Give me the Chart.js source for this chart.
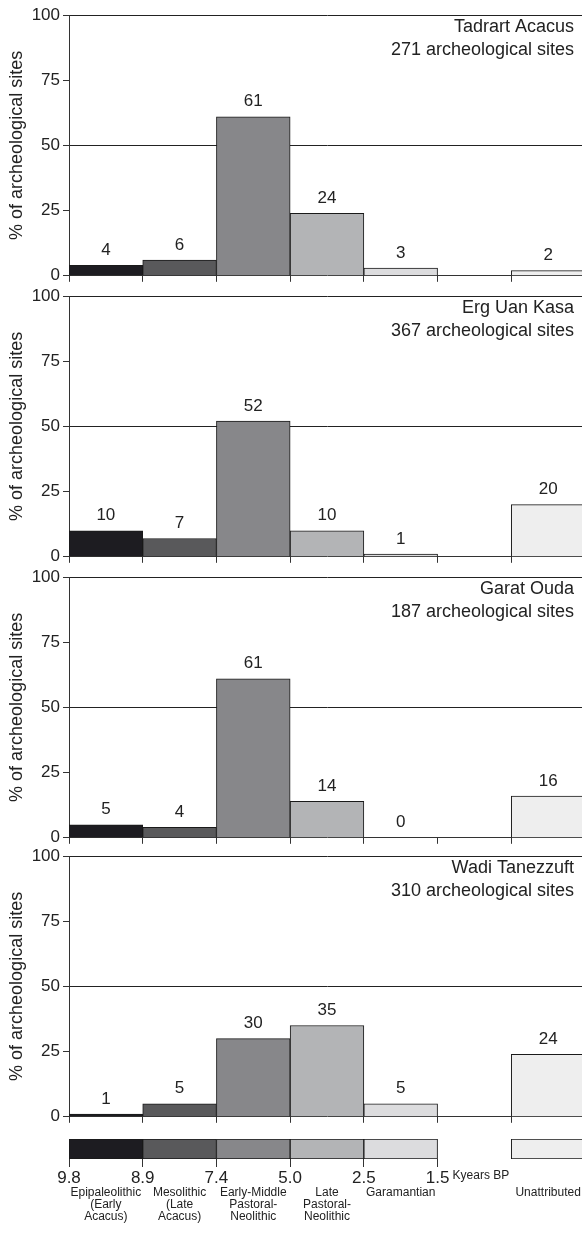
<!DOCTYPE html>
<html>
<head>
<meta charset="UTF-8">
<title>Archeological sites by period</title>
<style>
    html, body { margin: 0; padding: 0; background: #fff; overflow: hidden; }
    .wrap { position: relative; width: 582px; height: 1236px; overflow: hidden; }
    .panel { position: absolute; left: 0; }
    canvas { display: block; }
</style>
</head>
<body>
<div class="wrap">
    <div class="panel" style="top:0px"><canvas id="acacus" width="585" height="289"></canvas></div>
    <div class="panel" style="top:281px"><canvas id="erg" width="585" height="289"></canvas></div>
    <div class="panel" style="top:562px"><canvas id="garat" width="585" height="289"></canvas></div>
    <div class="panel" style="top:841px"><canvas id="wadi" width="585" height="289"></canvas></div>
    <div class="panel" style="top:1130px"><canvas id="strip" width="585" height="106"></canvas></div>
</div>
<script src="https://cdn.jsdelivr.net/npm/chart.js"></script>
<script>
    // periods, oldest first; slot 6 is an empty spacer before "Unattributed"
    const periods = ['Epipaleolithic', 'Mesolithic', 'Early-Middle Pastoral-Neolithic', 'Late Pastoral-Neolithic', 'Garamantian', '', 'Unattributed'];
    const periodLines = [['Epipaleolithic', '(Early', 'Acacus)'], ['Mesolithic', '(Late', 'Acacus)'], ['Early-Middle', 'Pastoral-', 'Neolithic'], ['Late', 'Pastoral-', 'Neolithic'], ['Garamantian'], [], ['Unattributed']];
    const periodColors = ['#1d1c21', '#59595b', '#87878a', '#b3b4b6', '#dcdcde', '#ffffff', '#eeeeee'];
    const boundariesBP = ['9.8', '8.9', '7.4', '5.0', '2.5', '1.5'];

    const siteNames = ['Tadrart Acacus', 'Erg Uan Kasa', 'Garat Ouda', 'Wadi Tanezzuft'];
    const siteCounts = [271, 367, 187, 310];

    const acacusPct = [4, 6, 61, 24, 3, null, 2];
    const ergPct = [10, 7, 52, 10, 1, null, 20];
    const garatPct = [5, 4, 61, 14, 0, null, 16];
    const wadiPct = [1, 5, 30, 35, 5, null, 24];

    const stripFill = [1, 1, 1, 1, 1, null, 1];

    const FONT = '"Liberation Sans", Arial, sans-serif';
    const TEXT = '#222';

    const valueLabels = {
        id: 'valueLabels',
        afterDatasetsDraw(chart) {
            const ctx = chart.ctx;
            const data = chart.data.datasets[0].data;
            ctx.save();
            ctx.font = '17px ' + FONT;
            ctx.fillStyle = TEXT;
            ctx.textAlign = 'center';
            ctx.textBaseline = 'middle';
            chart.getDatasetMeta(0).data.forEach((bar, i) => {
                if (data[i] === null) return;
                ctx.fillText(String(data[i]), bar.x, bar.y - 15);
            });
            ctx.restore();
        }
    };

    const siteTitle = {
        id: 'siteTitle',
        afterDraw(chart, args, opts) {
            const ctx = chart.ctx;
            const top = chart.chartArea.top;
            ctx.save();
            ctx.font = '18px ' + FONT;
            ctx.fillStyle = TEXT;
            ctx.textAlign = 'right';
            ctx.textBaseline = 'middle';
            ctx.fillText(opts.name, 574, top + 12);
            ctx.fillText(opts.count + ' archeological sites', 574, top + 35);
            ctx.restore();
        }
    };

    function makePanel(id, idx, values) {
        return new Chart(document.getElementById(id), {
            type: 'bar',
            data: {
                labels: periods,
                datasets: [{
                    data: values,
                    backgroundColor: periodColors,
                    borderColor: '#1a1a1a',
                    borderWidth: 1,
                    barPercentage: 1,
                    categoryPercentage: 1
                }]
            },
            options: {
                responsive: false,
                animation: false,
                layout: { padding: { top: 15, right: 0, bottom: 0, left: 0 } },
                plugins: {
                    legend: { display: false },
                    tooltip: { enabled: false },
                    siteTitle: { name: siteNames[idx], count: siteCounts[idx] }
                },
                scales: {
                    x: {
                        ticks: { display: false },
                        grid: { offset: true, drawOnChartArea: false, drawTicks: true, tickLength: 6, color: '#333' },
                        border: { color: '#333' },
                        afterFit(s) { s.height = 6; }
                    },
                    y: {
                        min: 0,
                        max: 100,
                        ticks: { stepSize: 25, padding: 3, color: TEXT, font: { family: FONT, size: 17 } },
                        grid: {
                            color: (c) => (c.tick && (c.tick.value === 50 || c.tick.value === 100)) ? '#222' : 'rgba(0,0,0,0)',
                            tickColor: '#333',
                            tickLength: 6
                        },
                        border: { color: '#333' },
                        title: {
                            display: true,
                            text: '% of archeological sites',
                            color: TEXT,
                            font: { family: FONT, size: 18 },
                            padding: { top: 6, bottom: 0 }
                        },
                        afterFit(s) { s.width = 69; }
                    }
                }
            },
            plugins: [valueLabels, siteTitle]
        });
    }

    makePanel('acacus', 0, acacusPct);
    makePanel('erg', 1, ergPct);
    makePanel('garat', 2, garatPct);
    makePanel('wadi', 3, wadiPct);

    const stripLabels = {
        id: 'stripLabels',
        afterDraw(chart) {
            const ctx = chart.ctx;
            const xs = chart.scales.x;
            const slot = (xs.right - xs.left) / periods.length;
            ctx.save();
            ctx.fillStyle = TEXT;
            ctx.textBaseline = 'middle';
            ctx.textAlign = 'center';
            ctx.font = '17px ' + FONT;
            boundariesBP.forEach((t, i) => {
                ctx.fillText(t, xs.getPixelForValue(i) - slot / 2, 48);
            });
            ctx.textAlign = 'left';
            ctx.font = '12px ' + FONT;
            ctx.fillText('Kyears BP', xs.getPixelForValue(boundariesBP.length - 1) - slot / 2 + 15, 46);
            ctx.textAlign = 'center';
            periodLines.forEach((lines, i) => {
                lines.forEach((line, j) => {
                    ctx.fillText(line, xs.getPixelForValue(i), 63 + j * 12);
                });
            });
            ctx.restore();
        }
    };

    new Chart(document.getElementById('strip'), {
        type: 'bar',
        data: {
            labels: periods,
            datasets: [{
                data: stripFill,
                backgroundColor: periodColors,
                borderColor: '#1a1a1a',
                borderWidth: 1,
                borderSkipped: false,
                barPercentage: 1,
                categoryPercentage: 1
            }]
        },
        options: {
            responsive: false,
            animation: false,
            layout: { padding: { top: 9, right: 0, bottom: 0, left: 69 } },
            plugins: { legend: { display: false }, tooltip: { enabled: false } },
            scales: {
                x: {
                    ticks: { display: false },
                    grid: {
                        offset: true,
                        drawOnChartArea: false,
                        drawTicks: true,
                        tickLength: 8,
                        color: (c) => (c.index !== undefined && c.index <= 5) ? '#333' : 'rgba(0,0,0,0)'
                    },
                    border: { display: false },
                    afterFit(s) { s.height = 77; }
                },
                y: { display: false, min: 0, max: 1 }
            }
        },
        plugins: [stripLabels]
    });
</script>
</body>
</html>
